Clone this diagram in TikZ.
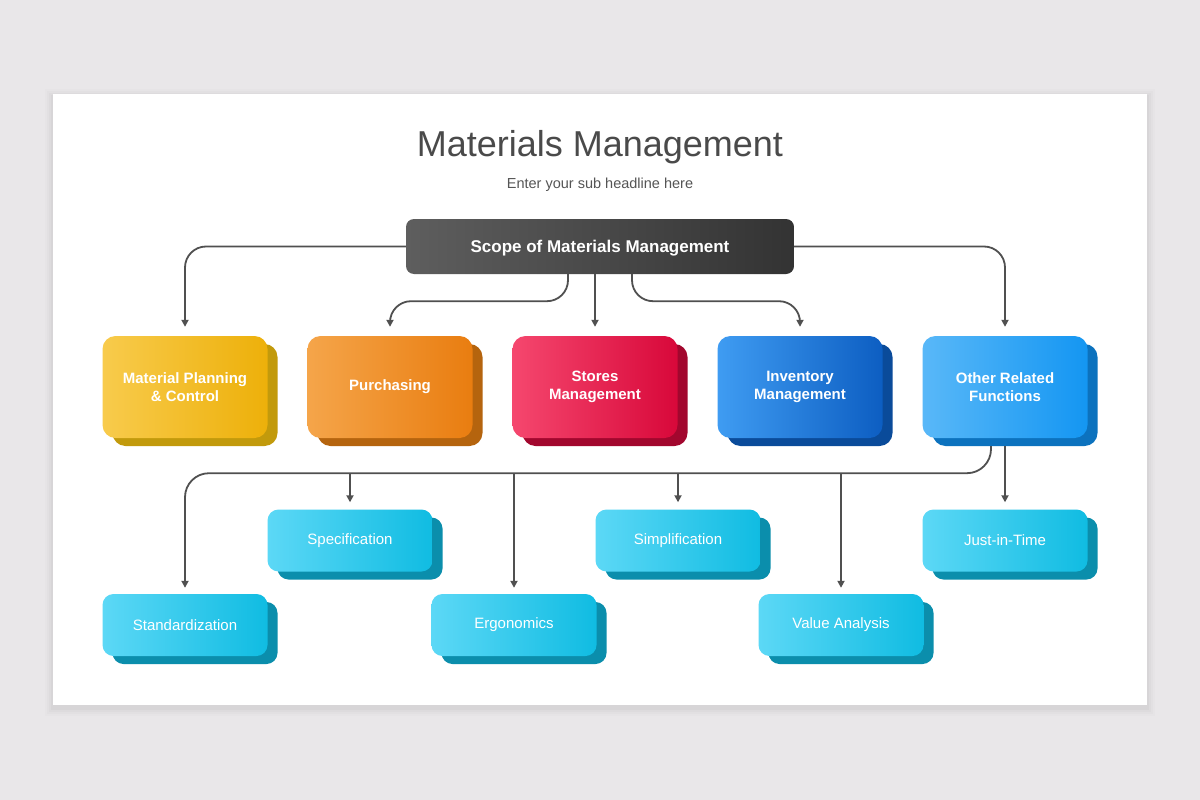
\documentclass[tikz,border=0pt]{standalone}
\usepackage{fontspec}
\setmainfont{Liberation Sans}
\usetikzlibrary{arrows.meta,shadows}
\definecolor{bgc}{HTML}{E9E7E9}
\definecolor{titlec}{HTML}{4A4A4A}
\definecolor{subc}{HTML}{555555}
\definecolor{linec}{HTML}{505050}
\definecolor{topA}{HTML}{5E5E5E}
\definecolor{topB}{HTML}{333333}
\definecolor{yelA}{HTML}{F8CB4C}
\definecolor{yelB}{HTML}{EDB00A}
\definecolor{yelS}{HTML}{C29A0C}
\definecolor{oraA}{HTML}{F5A54A}
\definecolor{oraB}{HTML}{E97D10}
\definecolor{oraS}{HTML}{B5640E}
\definecolor{redA}{HTML}{F5476E}
\definecolor{redB}{HTML}{D8083A}
\definecolor{redS}{HTML}{A2072E}
\definecolor{bluA}{HTML}{3F9CF2}
\definecolor{bluB}{HTML}{0D5EC2}
\definecolor{bluS}{HTML}{0A4B9A}
\definecolor{lbuA}{HTML}{59B8F8}
\definecolor{lbuB}{HTML}{1496F2}
\definecolor{lbuS}{HTML}{0C72BE}
\definecolor{cyaA}{HTML}{5CD8F6}
\definecolor{cyaB}{HTML}{10BCE2}
\definecolor{cyaS}{HTML}{0B8EAC}
\tikzset{
  bigbox/.style n args={3}{minimum width=165pt, minimum height=102pt, rounded corners=13pt,
    inner sep=0pt, align=center, text=white, font=\bfseries\fontsize{15}{18}\selectfont,
    general shadow={shadow xshift=10pt, shadow yshift=-8pt, fill=#3},
    left color=#1, right color=#2},
  smallbox/.style={minimum width=165pt, minimum height=62pt, rounded corners=11pt,
    inner sep=0pt, align=center, text=white, font=\fontsize{15}{18}\selectfont,
    general shadow={shadow xshift=10pt, shadow yshift=-8pt, fill=cyaS},
    left color=cyaA, right color=cyaB},
  conn/.style={draw=linec, line width=1.8pt, rounded corners=21pt,
    -{Triangle[length=7pt,width=7pt]}},
  connb/.style={draw=linec, line width=1.8pt,
    -{Triangle[length=7pt,width=7pt]}}
}
\begin{document}
\begin{tikzpicture}[x=1pt,y=-1pt]
\useasboundingbox (0,0) rectangle (1200,800);
\fill[bgc] (0,0) rectangle (1200,800);
% card soft shadow
\foreach \i/\o in {8/0.012,6/0.015,4/0.02,2/0.025}{
  \fill[black,opacity=\o] (53-\i,94-\i+3) rectangle (1147+\i,705+\i+3);
}
\fill[white] (53,94) rectangle (1147,705);

\node[font=\fontsize{36}{40}\selectfont, text=titlec, anchor=base] (title) at (600,156) {Materials Management};
\node[font=\fontsize{14.5}{17}\selectfont, text=subc, anchor=base] (sub) at (600,188) {Enter your sub headline here};

\node[minimum width=388pt, minimum height=55pt, rounded corners=8pt, inner sep=0pt,
  left color=topA, right color=topB] (scope) at (600,246.5) {};
\node[text=white, font=\bfseries\fontsize{17}{20}\selectfont, anchor=base] (scopet) at (600,252.5) {Scope of Materials Management};

\node[bigbox={yelA}{yelB}{yelS}] (mpc) at (185,387) {Material Planning\\\& Control};
\node[bigbox={oraA}{oraB}{oraS}] (pur) at (390,387) {Purchasing};
\node[bigbox={redA}{redB}{redS}] (sto) at (595,387) {Stores\\Management};
\node[bigbox={bluA}{bluB}{bluS}] (inv) at (800,387) {Inventory\\Management};
\node[bigbox={lbuA}{lbuB}{lbuS}] (orf) at (1005,387) {Other Related\\Functions};

\node[smallbox] (spec) at (350,540.5) {Specification};
\node[smallbox] (simp) at (678,540.5) {Simplification};
\node[smallbox] (jit) at (1005,540.5) {Just-in-Time};
\node[smallbox] (stdz) at (185,625) {Standardization};
\node[smallbox] (ergo) at (514,625) {Ergonomics};
\node[smallbox] (val) at (841,625) {Value Analysis};

% top connectors
\draw[conn, shorten >=9pt] (scope.west) -| (mpc.north);
\draw[conn, shorten >=9pt] (scope.east) -| (orf.north);
\draw[conn, shorten >=9pt] ([xshift=-32pt]scope.south) -- ++(0,27) -| (pur.north);
\draw[connb, shorten >=9pt] (sto.north |- scope.south) -- (sto.north);
\draw[conn, shorten >=9pt] ([xshift=32pt]scope.south) -- ++(0,27) -| (inv.north);

% bottom connectors
\coordinate (bus) at (0,473);
\draw[conn, rounded corners=24pt, shorten >=6pt] ([xshift=-14pt,yshift=-8pt]orf.south) -- ++(0,27) -| (stdz.north);
\draw[connb, shorten >=7pt] (spec.north |- bus) -- (spec.north);
\draw[connb, shorten >=6pt] (ergo.north |- bus) -- (ergo.north);
\draw[connb, shorten >=7pt] (simp.north |- bus) -- (simp.north);
\draw[connb, shorten >=6pt] (val.north |- bus) -- (val.north);
\draw[connb, shorten >=7pt] ([yshift=-8pt]orf.south) -- (jit.north);
\end{tikzpicture}
\end{document}
